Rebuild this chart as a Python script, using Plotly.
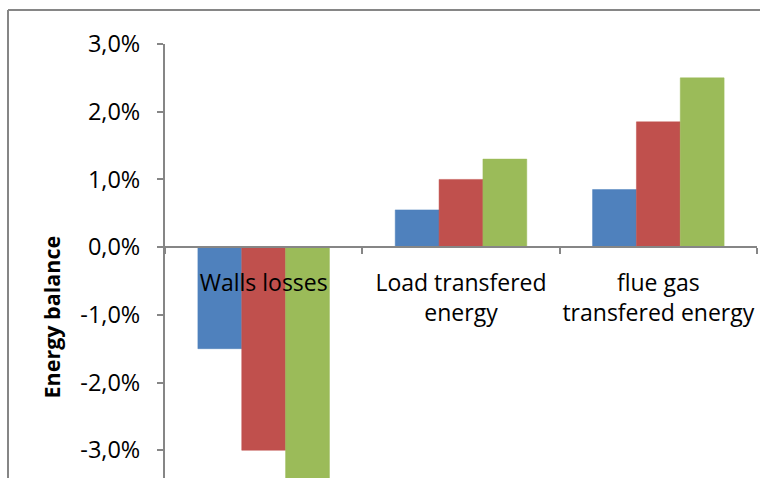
import plotly.graph_objects as go

# Energy balance deviations per category, three scenarios
categories = ["Walls losses", "Load transfered<br>energy", "flue gas<br>transfered energy"]
series_names = ["Case 1", "Case 2", "Case 3"]
series_values = [
    [-1.5, 0.55, 0.85],
    [-3.0, 1.0, 1.85],
    [-3.6, 1.3, 2.5],
]
series_colors = ["#4F81BD", "#C0504D", "#9BBB59"]

y_tickvals = [3, 2, 1, 0, -1, -2, -3]
y_ticktext = ["3,0%", "2,0%", "1,0%", "0,0%", "-1,0%", "-2,0%", "-3,0%"]
y_range = [-3.41, 3.0]

axis_grey = "#868686"
font_family = "Open Sans, Calibri, sans-serif"

fig = go.Figure()
for name, vals, color in zip(series_names, series_values, series_colors):
    fig.add_trace(go.Bar(
        x=categories, y=vals, name=name,
        marker=dict(color=color, line=dict(color=color, width=0.5)),
    ))

# category axis sits on the zero line
zero_pos = (0 - y_range[0]) / (y_range[1] - y_range[0])

fig.update_layout(
    width=760, height=478,
    margin=dict(l=165, r=3, t=44, b=0),
    paper_bgcolor="white", plot_bgcolor="white",
    showlegend=False,
    barmode="group", bargap=1.5 / 4.5, bargroupgap=0,
    font=dict(family=font_family, size=20, color="black"),
    xaxis=dict(
        type="category",
        anchor="free", position=zero_pos,
        automargin=False, tickangle=0,
        showline=True, linecolor=axis_grey, linewidth=2,
        ticks="outside", tickson="boundaries", ticklen=6, tickcolor=axis_grey, tickwidth=1.5,
        ticklabelstandoff=15,
        showgrid=False, zeroline=False,
        tickfont=dict(size=23, family=font_family),
    ),
    yaxis=dict(
        range=y_range, automargin=False,
        tickvals=y_tickvals, ticktext=y_ticktext,
        showline=True, linecolor=axis_grey, linewidth=2,
        ticks="outside", ticklen=6, tickcolor=axis_grey, tickwidth=1.5,
        ticklabelstandoff=12,
        showgrid=False, zeroline=False,
        tickfont=dict(size=23.5, family=font_family),
    ),
    shapes=[
        # chart frame (top and left edges)
        dict(type="line", xref="paper", yref="paper",
             xsizemode="pixel", xanchor=0, ysizemode="pixel", yanchor=1,
             x0=-157, x1=620, y0=34, y1=34,
             line=dict(color=axis_grey, width=2)),
        dict(type="line", xref="paper", yref="paper",
             xsizemode="pixel", xanchor=0, ysizemode="pixel", yanchor=1,
             x0=-157, x1=-157, y0=34, y1=-460,
             line=dict(color=axis_grey, width=2)),
    ],
    annotations=[
        dict(text="<b>Energy balance</b>", textangle=-90,
             xref="paper", yref="paper", x=-0.191, y=0.372,
             xanchor="center", yanchor="middle", showarrow=False,
             font=dict(size=21.5, family=font_family, color="black")),
    ],
)

fig.write_html("out.html")
